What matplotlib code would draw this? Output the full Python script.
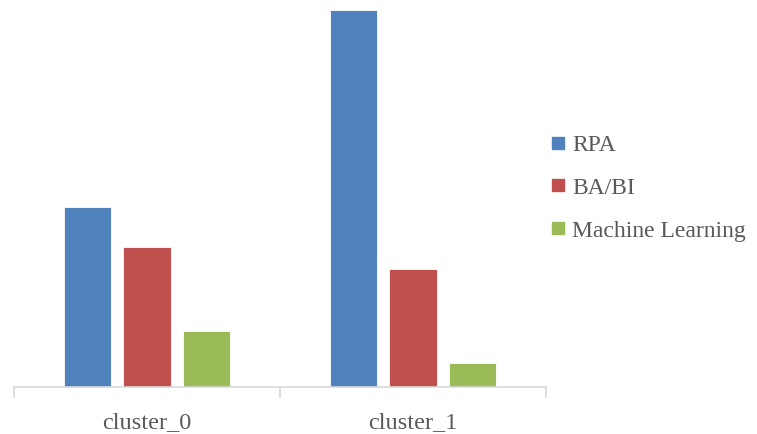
import numpy as np
import matplotlib.pyplot as plt
from matplotlib.lines import Line2D

clusters = ["cluster_0", "cluster_1"]
series = ["RPA", "BA/BI", "Machine Learning"]
rpa = [180, 377]
ba_bi = [140, 118]
machine_learning = [56, 24]
colors = ["#4f81bd", "#c0504d", "#9bbb59"]

fig = plt.figure(figsize=(7.57, 4.34), dpi=100)
ax = fig.add_axes([14 / 757, 47 / 434, 532 / 757, 380 / 434])

x = np.arange(len(clusters))
width = 0.177
step = 0.222
for i, (vals, c) in enumerate(zip([rpa, ba_bi, machine_learning], colors)):
    ax.bar(x + (i - 1) * step, vals, width, color=c, edgecolor="white", linewidth=0.6, label=series[i])

ax.set_xlim(-0.5, 1.5)
ax.set_ylim(0, 380)
for s in ["top", "right", "left"]:
    ax.spines[s].set_visible(False)
ax.spines["bottom"].set_color("#d9d9d9")
ax.spines["bottom"].set_linewidth(1.2)
ax.set_yticks([])
ax.set_xticks(x)
ax.set_xticklabels(clusters, family="Liberation Serif", fontsize=17.5, color="#595959")
ax.tick_params(axis="x", which="major", length=0, pad=18)
ax.set_xticks([-0.5, 0.5, 1.5], minor=True)
ax.tick_params(axis="x", which="minor", length=8, width=1.2, color="#d9d9d9")

handles = [Line2D([], [], marker="s", linestyle="none", markersize=8, color=c) for c in colors]
fig.legend(handles, series, loc="center left", bbox_to_anchor=(530 / 757, 1 - 188 / 434),
           frameon=False, handlelength=0.6, handletextpad=0.3, labelspacing=0.9,
           prop={"family": "Liberation Serif", "size": 17}, labelcolor="#595959")

fig.savefig("out.png", dpi=100)
